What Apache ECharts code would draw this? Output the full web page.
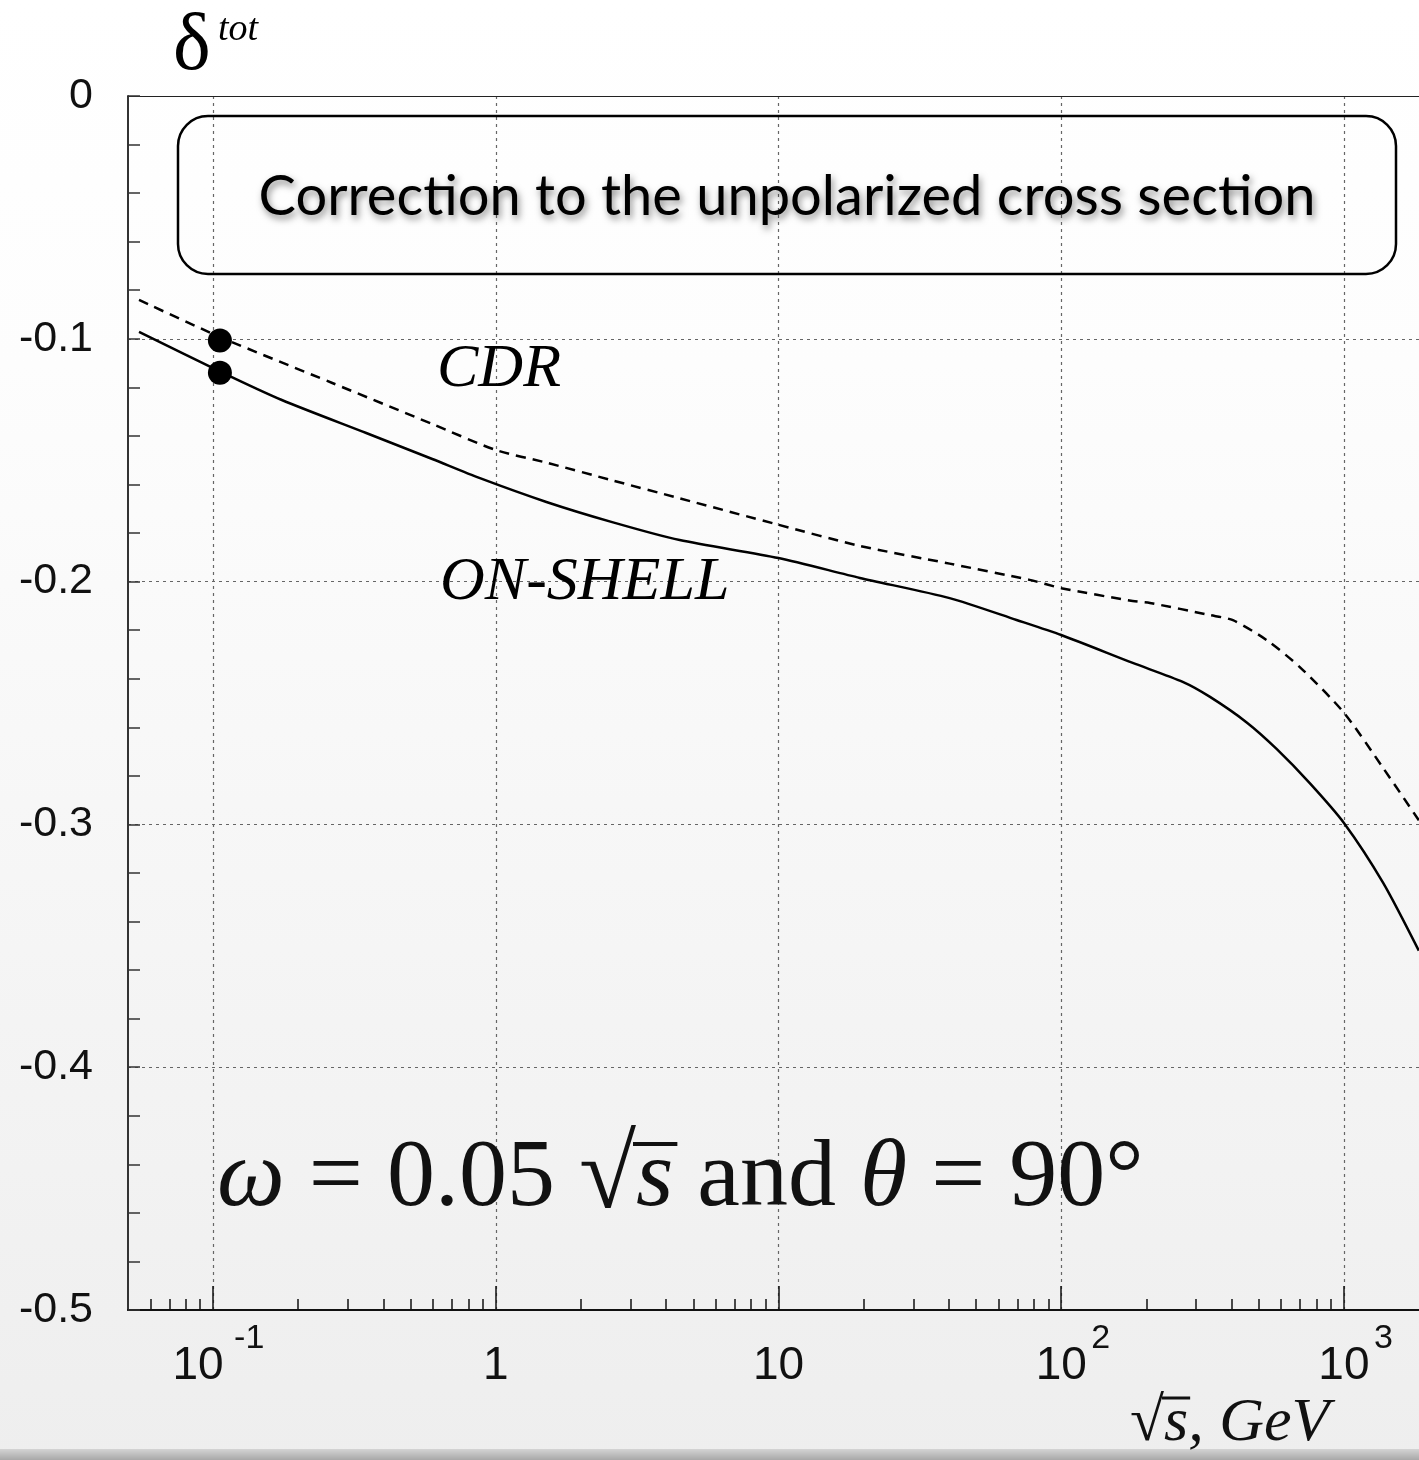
<!DOCTYPE html>
<html><head><meta charset="utf-8">
<script src="https://cdn.jsdelivr.net/npm/echarts@6/dist/echarts.min.js"></script>
<style>html,body{margin:0;padding:0;background:#fff;}#c{width:1419px;height:1460px;}</style>
</head><body><div id="c"></div>
<script>
// ---- data ----
const onShellX = [0.0547, 0.106, 0.175, 0.348, 0.596, 0.874, 1.51, 2.58, 4.47, 10, 19.4, 40.3, 69.5, 100, 179, 269, 336, 453, 579, 757, 1000, 1375, 1840];
const onShellY = [-0.0971, -0.1135, -0.1252, -0.1388, -0.1495, -0.1573, -0.1672, -0.1755, -0.1829, -0.1903, -0.1985, -0.2068, -0.2158, -0.222, -0.2335, -0.2413, -0.2475, -0.258, -0.269, -0.283, -0.2994, -0.324, -0.352];
const cdrX = [0.0547, 0.106, 0.264, 0.596, 1.0, 1.51, 2.58, 4.47, 10, 19.4, 40.3, 77.3, 100, 179, 206, 336, 405, 533, 698, 1000, 1375, 1840];
const cdrY = [-0.084, -0.0993, -0.1182, -0.1351, -0.1458, -0.151, -0.1583, -0.1657, -0.1766, -0.1853, -0.1926, -0.1993, -0.2027, -0.208, -0.2088, -0.2138, -0.2159, -0.2241, -0.2352, -0.254, -0.2767, -0.2983];
const pointX = [0.1057, 0.1057];
const pointY = [-0.1007, -0.114];
const xMajorTicks = [0.1, 1, 10, 100, 1000];
const xMajorBase = ['10', '1', '10', '10', '10'];
const xMajorExp = ['-1', '', '', '2', '3'];
const xMinorTicks = [0.06, 0.07, 0.08, 0.09, 0.2, 0.3, 0.4, 0.5, 0.6, 0.7, 0.8, 0.9, 2, 3, 4, 5, 6, 7, 8, 9, 20, 30, 40, 50, 60, 70, 80, 90, 200, 300, 400, 500, 600, 700, 800, 900];
const yTickLabels = ['0', '-0.1', '-0.2', '-0.3', '-0.4', '-0.5'];
const X_MIN = 0.05, X_MAX = 1843, Y_MIN = -0.5, Y_MAX = 0;
const titleText = 'Correction to the unpolarized cross section';

const zip = (a, b) => a.map((v, i) => [v, b[i]]);
const tickIndex = (v) => xMajorTicks.findIndex(t => Math.abs(Math.log10(t) - Math.log10(v)) < 1e-6);

const chart = echarts.init(document.getElementById('c'), null, {renderer: 'canvas', width: 1419, height: 1460});
const gridDash = {color: '#666', width: 1.2, type: [3, 4]};
const serif = '"Liberation Serif", "Times New Roman", serif';
const sans = '"Liberation Sans", Arial, sans-serif';

// measure helper for vinculum placement
const mctx = document.createElement('canvas').getContext('2d');
function mw(txt, font) { mctx.font = font; return mctx.measureText(txt).width; }

const FX = 217, FY = 1180, FS = 96, FQ = 104;
const fPre = mw('ω', 'italic ' + FS + 'px ' + serif) + mw(' = 0.05 ', FS + 'px ' + serif) + mw('√', FQ + 'px ' + serif);
const fS = mw('s', 'italic ' + FS + 'px ' + serif);
const AX = 1130, AY = 1424, AS = 62;
const aPre = mw('√', AS + 'px ' + serif);
const aS = mw('s', 'italic ' + AS + 'px ' + serif);

const baseAxis = {type: 'log', logBase: 10, min: X_MIN, max: X_MAX, splitLine: {show: false}, minorTick: {show: false}};

const option = {
  animation: false,
  backgroundColor: {type: 'linear', x: 0, y: 0, x2: 0, y2: 1, colorStops: [
    {offset: 0, color: '#ffffff'}, {offset: 0.25, color: '#fdfdfd'}, {offset: 0.6, color: '#f6f6f6'}, {offset: 1, color: '#eeeeee'}]},
  grid: {left: 128, right: 0, top: 96, bottom: 150},
  xAxis: [
    Object.assign({}, baseAxis, {position: 'bottom',
     axisLine: {show: true, onZero: false, lineStyle: {color: '#111', width: 2}},
     axisTick: {show: true, inside: true, length: 24, customValues: xMajorTicks, lineStyle: {color: '#111', width: 1.5}},
     axisLabel: {show: true, customValues: xMajorTicks, margin: 33, color: '#111', fontSize: 46, fontFamily: sans,
       formatter: (v) => {
         const i = tickIndex(v);
         if (i < 0) return '';
         return xMajorExp[i] === '-1' ? '{m|' + xMajorBase[i] + '}' : xMajorBase[i];
       },
       rich: {m: {fontSize: 46, fontFamily: sans, color: '#111', padding: [0, 30, 0, 0]}}},
     splitLine: {show: true, lineStyle: gridDash}}),
    Object.assign({}, baseAxis, {position: 'bottom',
     axisLine: {show: false, onZero: false},
     axisTick: {show: true, inside: true, length: 11, customValues: xMinorTicks, lineStyle: {color: '#111', width: 1.5}},
     axisLabel: {show: false}}),
    Object.assign({}, baseAxis, {position: 'bottom',
     axisLine: {show: false, onZero: false},
     axisTick: {show: false},
     axisLabel: {show: true, customValues: xMajorTicks, margin: 12, color: '#111', fontSize: 34, fontFamily: sans, align: 'left',
       formatter: (v) => {
         const i = tickIndex(v);
         if (i < 0 || !xMajorExp[i]) return '';
         return xMajorExp[i] === '-1' ? '{n|' + xMajorExp[i] + '}' : '{p|' + xMajorExp[i] + '}';
       },
       rich: {
         n: {fontSize: 34, fontFamily: sans, color: '#111', padding: [0, 0, 0, 21]},
         p: {fontSize: 34, fontFamily: sans, color: '#111', padding: [0, 0, 0, 30]}
       }}}),
    Object.assign({}, baseAxis, {position: 'top',
     axisLine: {show: true, onZero: false, lineStyle: {color: '#222', width: 1.2}},
     axisTick: {show: false}, axisLabel: {show: false}})
  ],
  yAxis: {type: 'value', min: Y_MIN, max: Y_MAX, interval: 0.1,
    axisLine: {show: true, onZero: false, lineStyle: {color: '#333', width: 2}},
    axisTick: {show: true, inside: true, length: 12, lineStyle: {color: '#333', width: 1.5}},
    minorTick: {show: true, splitNumber: 5, length: 12, lineStyle: {color: '#333', width: 1.5}},
    splitLine: {show: true, lineStyle: gridDash},
    axisLabel: {fontSize: 43, fontFamily: sans, color: '#111', margin: 35,
      formatter: (v) => yTickLabels[Math.round(-v * 10)]}
  },
  series: [
    {type: 'line', name: 'ON-SHELL', data: zip(onShellX, onShellY), showSymbol: false, smooth: 0.25,
     lineStyle: {color: '#000', width: 2.5, type: 'solid'}, z: 5},
    {type: 'line', name: 'CDR', data: zip(cdrX, cdrY), showSymbol: false, smooth: 0.25,
     lineStyle: {color: '#000', width: 2.5, type: [10, 7]}, z: 5},
    {type: 'scatter', data: zip(pointX, pointY), symbolSize: 24, itemStyle: {color: '#000', opacity: 1}, z: 6}
  ],
  graphic: [
    {type: 'rect', left: 0, top: 1449, shape: {width: 1419, height: 11},
     style: {fill: {type: 'linear', x: 0, y: 0, x2: 0, y2: 1, colorStops: [{offset: 0, color: '#d4d4d4'}, {offset: 1, color: '#a8a8a8'}]}}, z: 1},
    {type: 'rect', shape: {x: 178, y: 116, width: 1218, height: 158, r: 30},
     style: {fill: 'none', stroke: '#000', lineWidth: 2.5}, z: 10},
    {type: 'text', x: 787, y: 197, z: 11,
     style: {text: titleText, font: '56px Lato, "Noto Sans", sans-serif', fill: '#000', align: 'center', verticalAlign: 'middle',
       textShadowColor: 'rgba(0,0,0,0.45)', textShadowBlur: 7, textShadowOffsetX: 2, textShadowOffsetY: 4}},
    {type: 'text', x: 173, y: 48, z: 11,
     style: {text: 'δ', font: '80px ' + serif, fill: '#000', align: 'left', verticalAlign: 'middle'}},
    {type: 'text', x: 218, y: 30, z: 11,
     style: {text: 'tot', font: 'italic 38px ' + serif, fill: '#000', align: 'left', verticalAlign: 'middle'}},
    {type: 'text', x: 437, y: 370, z: 11,
     style: {text: 'CDR', font: 'italic 62px ' + serif, fill: '#000', align: 'left', verticalAlign: 'middle'}},
    {type: 'text', x: 440, y: 583, z: 11,
     style: {text: 'ON-SHELL', font: 'italic 62px ' + serif, fill: '#000', align: 'left', verticalAlign: 'middle'}},
    {type: 'text', x: FX, y: FY, z: 11,
     style: {text: '{i|ω}{r| = 0.05 }{q|√}{i|s}{r| and }{i|θ}{r| = 90°}', align: 'left', verticalAlign: 'middle',
       rich: {
         i: {fontSize: FS, fontFamily: serif, fontStyle: 'italic', fill: '#111'},
         r: {fontSize: FS, fontFamily: serif, fill: '#111'},
         q: {fontSize: FQ, fontFamily: serif, fill: '#111'}
       }}},
    {type: 'line', z: 11, shape: {x1: FX + fPre - 3, y1: FY - 36, x2: FX + fPre + fS + 4, y2: FY - 36},
     style: {stroke: '#111', lineWidth: 4}},
    {type: 'text', x: AX, y: AY, z: 11,
     style: {text: '{q|√}{i|s, GeV}', align: 'left', verticalAlign: 'middle',
       rich: {
         q: {fontSize: AS, fontFamily: serif, fill: '#111'},
         i: {fontSize: AS, fontFamily: serif, fontStyle: 'italic', fill: '#111'}
       }}},
    {type: 'line', z: 11, shape: {x1: AX + aPre - 2, y1: AY - 26, x2: AX + aPre + aS + 2, y2: AY - 26},
     style: {stroke: '#111', lineWidth: 3}}
  ]
};
chart.setOption(option);
</script>
</body></html>
